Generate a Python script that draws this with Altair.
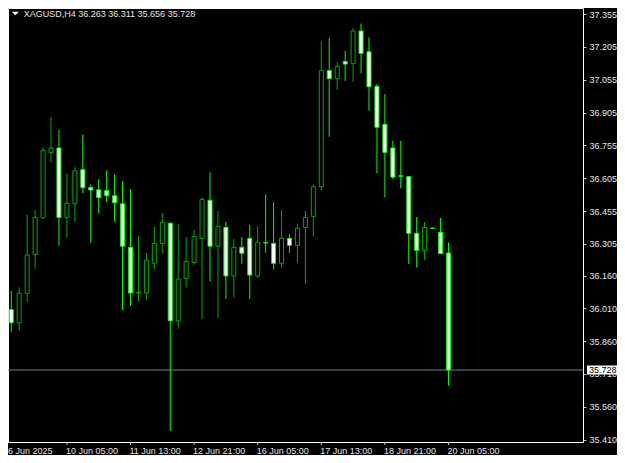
import altair as alt
import pandas as pd

# ---- data (H4 candles, XAGUSD) ----
bars = list(range(57))
opens = [36.028, 36.004, 35.944, 36.079, 36.257, 36.424, 36.722, 36.743, 36.426, 36.488,
         36.644, 36.563, 36.552, 36.548, 36.525, 36.488, 36.289, 36.080, 36.080, 36.216,
         36.307, 36.399, 35.953, 36.147, 36.220, 36.330, 36.504, 36.294, 36.380, 36.158,
         36.289, 36.330, 36.158, 36.311, 36.307, 36.216, 36.330, 36.298, 36.380, 36.429,
         36.566, 37.097, 37.060, 37.138, 37.129, 37.278, 37.183, 37.025, 36.851, 36.743,
         36.616, 36.612, 36.353, 36.275, 36.377, 36.358, 36.263]
highs = [36.036, 36.089, 36.106, 36.437, 36.460, 36.745, 36.886, 36.825, 36.627, 36.655,
         36.804, 36.577, 36.600, 36.641, 36.623, 36.591, 36.554, 36.341, 36.263, 36.382,
         36.446, 36.403, 36.396, 36.336, 36.368, 36.519, 36.632, 36.455, 36.405, 36.327,
         36.336, 36.391, 36.386, 36.531, 36.496, 36.460, 36.349, 36.396, 36.455, 36.577,
         37.234, 37.247, 37.135, 37.188, 37.293, 37.312, 37.249, 37.036, 36.990, 36.776,
         36.776, 36.614, 36.428, 36.405, 36.379, 36.423, 36.311]
lows = [35.926, 35.903, 35.908, 36.039, 36.191, 36.417, 36.678, 36.296, 36.333, 36.406,
        36.537, 36.310, 36.443, 36.496, 36.406, 36.002, 36.021, 36.042, 36.047, 36.191,
        36.260, 35.449, 35.917, 36.106, 36.210, 35.961, 36.132, 35.966, 36.053, 36.060,
        36.214, 36.053, 36.150, 36.264, 36.187, 36.196, 36.264, 36.219, 36.121, 36.338,
        36.551, 36.795, 37.008, 37.050, 37.046, 37.085, 36.914, 36.627, 36.518, 36.600,
        36.559, 36.213, 36.196, 36.231, 36.374, 36.260, 35.656]
closes = [35.949, 35.944, 36.079, 36.254, 36.426, 36.731, 36.743, 36.426, 36.490, 36.639,
          36.562, 36.551, 36.516, 36.525, 36.493, 36.294, 36.080, 36.082, 36.230, 36.307,
          36.403, 35.953, 36.144, 36.225, 36.339, 36.508, 36.294, 36.385, 36.158, 36.289,
          36.262, 36.162, 36.312, 36.309, 36.216, 36.330, 36.298, 36.376, 36.426, 36.566,
          37.097, 37.060, 37.115, 37.127, 37.278, 37.176, 37.023, 36.838, 36.723, 36.610,
          36.614, 36.353, 36.275, 36.380, 36.375, 36.260, 35.728]

tick_bars = [8, 16, 24, 32, 40, 48, 56]
tick_labels = ["10 Jun 05:00", "11 Jun 13:00", "12 Jun 21:00", "16 Jun 05:00",
               "17 Jun 13:00", "18 Jun 21:00", "20 Jun 05:00"]
first_label = "6 Jun 2025"
y_ticks = [37.355, 37.205, 37.055, 36.905, 36.755, 36.605, 36.455, 36.305,
           36.160, 36.010, 35.860, 35.710, 35.560, 35.410]
symbol = "XAGUSD,H4"

# ---- build tables ----
df = pd.DataFrame({"i": bars, "open": opens, "high": highs, "low": lows, "close": closes})
df["dir"] = ["up" if c > o else "down" for o, c in zip(opens, closes)]

W, H = 575, 434
FONT = "Liberation Sans"
TXT = "#e6e6e6"
UP = "#00a800"
DOWN = "#00ff00"

xs = alt.Scale(domain=[0.591, 72.92], nice=False, zero=False, padding=0)
ys = alt.Scale(domain=[35.3988, 37.3833], nice=False, zero=False, padding=0)

dir_stroke = alt.Scale(domain=["up", "down"], range=[UP, DOWN])
dir_fill = alt.Scale(domain=["up", "down"], range=["black", "white"])

yaxis = alt.Axis(orient="right", values=y_ticks, format=".3f", title=None, grid=False,
                 domain=False, ticks=True, tickSize=3, tickColor="#c0c0c0",
                 labelFont=FONT, labelFontSize=9, labelColor=TXT, labelPadding=3,
                 labelOverlap=False, labelFlush=False)

pdf = pd.DataFrame({"price": [closes[-1]], "txt": [f"{closes[-1]:.3f}"]})

pline = alt.Chart(pdf).mark_rule(color="#708090", strokeWidth=1).encode(
    x=alt.value(0), x2=alt.value(W),
    y=alt.Y("price:Q", scale=ys, axis=yaxis))

wick = alt.Chart(df).mark_rule(strokeWidth=1, clip=True).encode(
    x=alt.X("i:Q", scale=xs, axis=None),
    y=alt.Y("low:Q", scale=ys, axis=yaxis),
    y2="high:Q",
    color=alt.Color("dir:N", scale=dir_stroke, legend=None))

body = alt.Chart(df).mark_bar(size=4, strokeWidth=1, clip=True).encode(
    x=alt.X("i:Q", scale=xs, axis=None),
    y=alt.Y("open:Q", scale=ys, axis=yaxis),
    y2="close:Q",
    fill=alt.Fill("dir:N", scale=dir_fill, legend=None),
    stroke=alt.Stroke("dir:N", scale=dir_stroke, legend=None))

ldf = pd.DataFrame({"i": tick_bars, "label": tick_labels})
xtick = alt.Chart(ldf).mark_rule(color="#c0c0c0", strokeWidth=1).encode(
    x=alt.X("i:Q", scale=xs, axis=None),
    y=alt.value(H), y2=alt.value(H + 3))
xlab = alt.Chart(ldf).mark_text(align="left", baseline="middle", font=FONT, fontSize=9,
                                color=TXT, dx=-1).encode(
    x=alt.X("i:Q", scale=xs, axis=None),
    y=alt.value(H + 8.5),
    text="label:N")
first = alt.Chart(pd.DataFrame({"label": [first_label]})).mark_text(
    align="left", baseline="middle", font=FONT, fontSize=9, color=TXT).encode(
    x=alt.value(0), y=alt.value(H + 8.5), text="label:N")

pbox = alt.Chart(pdf).mark_rule(color="white", strokeWidth=9, strokeCap="butt").encode(
    x=alt.value(W + 4), x2=alt.value(W + 34),
    y=alt.Y("price:Q", scale=ys, axis=yaxis))
ptxt = alt.Chart(pdf).mark_text(align="left", baseline="middle", font=FONT, fontSize=9,
                                color="black").encode(
    x=alt.value(W + 6), y=alt.Y("price:Q", scale=ys, axis=yaxis), text="txt:N")

tdf = pd.DataFrame({"t": [f"{symbol}  {opens[-1]:.3f} {highs[-1]:.3f} {lows[-1]:.3f} {closes[-1]:.3f}"]})
tri = alt.Chart(tdf).mark_point(shape="M-1,-0.5L1,-0.5L0,0.5Z", size=49, filled=True,
                                color="white", opacity=1).encode(
    x=alt.value(7.3), y=alt.value(5.5))
title = alt.Chart(tdf).mark_text(align="left", baseline="middle", font=FONT, fontSize=9,
                                 color=TXT).encode(
    x=alt.value(15.7), y=alt.value(5.8), text="t:N")

chart = alt.layer(pline, wick, body, xtick, xlab, first, pbox, ptxt, tri, title).properties(
    width=W, height=H,
    padding={"left": 0, "top": 0, "right": 34, "bottom": 13},
    autosize=alt.AutoSizeParams(type="none"),
    background="black",
).configure_view(stroke="white", strokeWidth=1)

chart.save("out.html", embed_options={"renderer": "svg", "actions": False})
